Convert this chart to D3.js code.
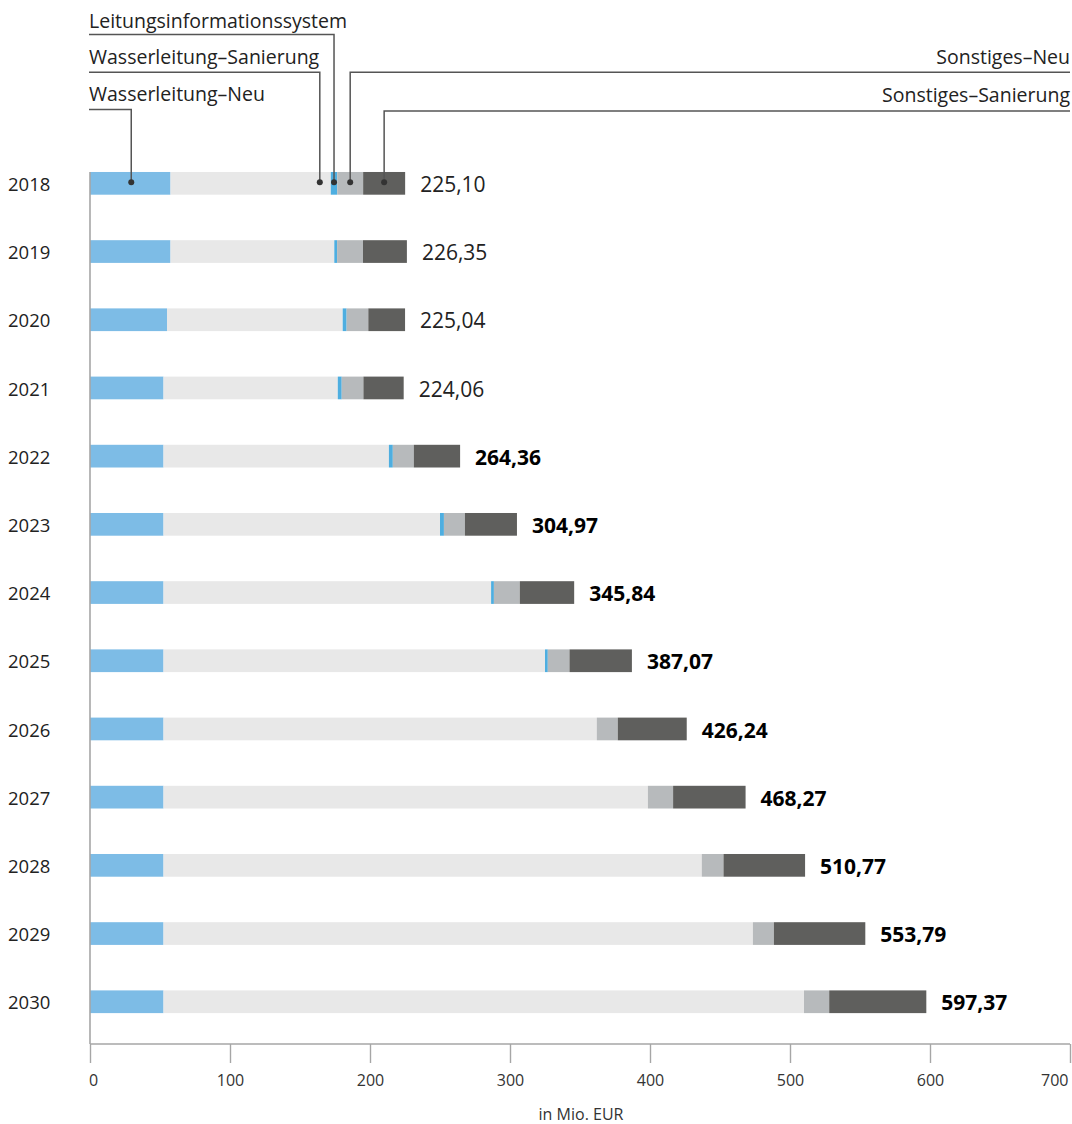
<!DOCTYPE html>
<html>
<head>
<meta charset="utf-8">
<script src="https://cdn.jsdelivr.net/npm/d3@7"></script>
<style>
  html, body { margin: 0; padding: 0; background: #fff; }
  svg { display: block; font-family: "Open Sans", "Noto Sans", sans-serif; }
</style>
</head>
<body>
<svg id="chart" width="1072" height="1124"></svg>
<script>
// Investment plan per year, in Mio. EUR
const years = [2018, 2019, 2020, 2021, 2022, 2023, 2024, 2025, 2026, 2027, 2028, 2029, 2030];
const wasserleitungNeu       = [57.5, 57.5, 55.0, 52.5, 52.5, 52.5, 52.5, 52.5, 52.5, 52.5, 52.5, 52.5, 52.5];
const wasserleitungSanierung = [114.5, 117.0, 125.5, 124.5, 161.0, 197.5, 234.0, 272.5, 309.5, 346.0, 384.5, 421.0, 457.5];
const leitungsinfosystem     = [4.6, 2.0, 2.8, 2.8, 2.8, 2.8, 2.0, 2.0, 0, 0, 0, 0, 0];
const sonstigesNeu           = [18.5, 18.5, 15.5, 15.5, 15.0, 15.0, 18.5, 15.5, 15.0, 18.0, 15.5, 15.0, 18.0];
const sonstigesSanierung     = [30.0, 31.35, 26.24, 28.76, 33.06, 37.17, 38.84, 44.57, 49.24, 51.77, 58.27, 65.29, 69.37];
const totals      = [225.10, 226.35, 225.04, 224.06, 264.36, 304.97, 345.84, 387.07, 426.24, 468.27, 510.77, 553.79, 597.37];
const totalLabels = ["225,10", "226,35", "225,04", "224,06", "264,36", "304,97", "345,84", "387,07", "426,24", "468,27", "510,77", "553,79", "597,37"];
// plan years from 2022 on are shown in bold
const boldFrom = 2022;
const xTicks = [0, 100, 200, 300, 400, 500, 600, 700];
const axisTitle = "in Mio. EUR";

const seriesNames = ["Wasserleitung–Neu", "Wasserleitung–Sanierung", "Leitungsinformationssystem", "Sonstiges–Neu", "Sonstiges–Sanierung"];
const seriesValues = [wasserleitungNeu, wasserleitungSanierung, leitungsinfosystem, sonstigesNeu, sonstigesSanierung];
const seriesColors = ["#7dbce6", "#e8e8e8", "#4eaee0", "#b7babc", "#5f5f5d"];

const rows = years.map((y, i) => {
  const r = { year: y };
  seriesNames.forEach((n, k) => r[n] = seriesValues[k][i]);
  return r;
});

const svg = d3.select("#chart");
const x = d3.scaleLinear().domain([0, 700]).range([90, 1070]);
const y = d3.scaleBand().domain(years).range([126.5, 1058.6]).paddingInner(0.667).paddingOuter(0.667);

const stacked = d3.stack().keys(seriesNames)(rows);

// stacked bars
const layers = svg.append("g").selectAll("g").data(stacked).join("g")
  .attr("fill", (d, i) => seriesColors[i]);
layers.selectAll("rect").data(d => d).join("rect")
  .attr("x", d => x(d[0]))
  .attr("y", d => y(d.data.year))
  .attr("width", d => Math.max(0, x(d[1]) - x(d[0])))
  .attr("height", y.bandwidth());

// x axis
const axisColor = "#a6a6a6";
const axisY = 1044;
const xAxis = d3.axisBottom(x).tickValues(xTicks).tickSize(19).tickPadding(12).tickFormat(d3.format("d"));
const gx = svg.append("g").attr("transform", `translate(0,${axisY})`).call(xAxis);
gx.select(".domain").attr("stroke", axisColor).attr("stroke-width", 1.6).attr("d", `M${x(0)},0H${x(700)}`);
gx.selectAll(".tick line").attr("stroke", axisColor).attr("stroke-width", 1.4);
gx.selectAll(".tick text").attr("fill", "#333").style("font-size", "16px").style("font-family", "'Open Sans', sans-serif");
// keep the last tick label inside the right edge
gx.selectAll(".tick text").filter(d => d === xTicks[xTicks.length - 1])
  .attr("text-anchor", "end").attr("x", -2);
gx.selectAll(".tick text").filter(d => d === xTicks[0]).attr("x", 3);

// vertical baseline
svg.append("line")
  .attr("x1", x(0)).attr("x2", x(0))
  .attr("y1", y(years[0])).attr("y2", axisY)
  .attr("stroke", axisColor).attr("stroke-width", 1.6);

svg.append("text")
  .attr("x", (x(0) + x(700)) / 2 + 1).attr("y", 1120)
  .attr("text-anchor", "middle").attr("fill", "#333").style("font-size", "16px")
  .text(axisTitle);

// year labels
svg.append("g").selectAll("text").data(years).join("text")
  .attr("x", 8).attr("y", d => y(d) + y.bandwidth() / 2 + 1)
  .attr("dy", "0.36em").attr("fill", "#222").style("font-size", "18.5px")
  .text(d => d);

// totals
svg.append("g").selectAll("text").data(years).join("text")
  .attr("x", (d, i) => x(totals[i]) + 15)
  .attr("y", d => y(d) + y.bandwidth() / 2 + 1)
  .attr("dy", "0.36em").attr("fill", (d) => d >= boldFrom ? "#000" : "#222")
  .style("font-size", "21px")
  .style("font-weight", d => d >= boldFrom ? 700 : 400)
  .text((d, i) => totalLabels[i]);

// callout legend anchored on the first bar
const seg = name => { const s = stacked[seriesNames.indexOf(name)][0]; return [s[0], s[1]]; };
const midOf = name => { const s = seg(name); return x((s[0] + s[1]) / 2); };
const cy = y(years[0]) + y.bandwidth() / 2 - 1;
const callouts = [
  { name: "Leitungsinformationssystem", side: "left",  lineY: 34.5, textY: 28,  px: midOf("Leitungsinformationssystem") },
  { name: "Wasserleitung–Sanierung",    side: "left",  lineY: 72.3, textY: 64,  px: x(seg("Wasserleitung–Sanierung")[1]) - 11 },
  { name: "Wasserleitung–Neu",          side: "left",  lineY: 109.5, textY: 101, px: midOf("Wasserleitung–Neu") + 1 },
  { name: "Sonstiges–Neu",              side: "right", lineY: 72.3, textY: 64,  px: midOf("Sonstiges–Neu") },
  { name: "Sonstiges–Sanierung",        side: "right", lineY: 111, textY: 102, px: midOf("Sonstiges–Sanierung") }
];
const leg = svg.append("g");
callouts.forEach(c => {
  const xr = c.side === "left" ? c.px : 1070;
  leg.append("path")
    .attr("d", c.side === "left"
      ? `M89,${c.lineY}H${c.px}V${cy}`
      : `M${xr},${c.lineY}H${c.px}V${cy}`)
    .attr("fill", "none").attr("stroke", "#555").attr("stroke-width", 1.5);
  leg.append("circle").attr("cx", c.px).attr("cy", cy).attr("r", 3).attr("fill", "#333");
  leg.append("text")
    .attr("x", c.side === "left" ? 89 : 1070)
    .attr("y", c.textY)
    .attr("text-anchor", c.side === "left" ? "start" : "end")
    .attr("fill", "#222").style("font-size", "19.5px")
    .text(c.name);
});
</script>
</body>
</html>
